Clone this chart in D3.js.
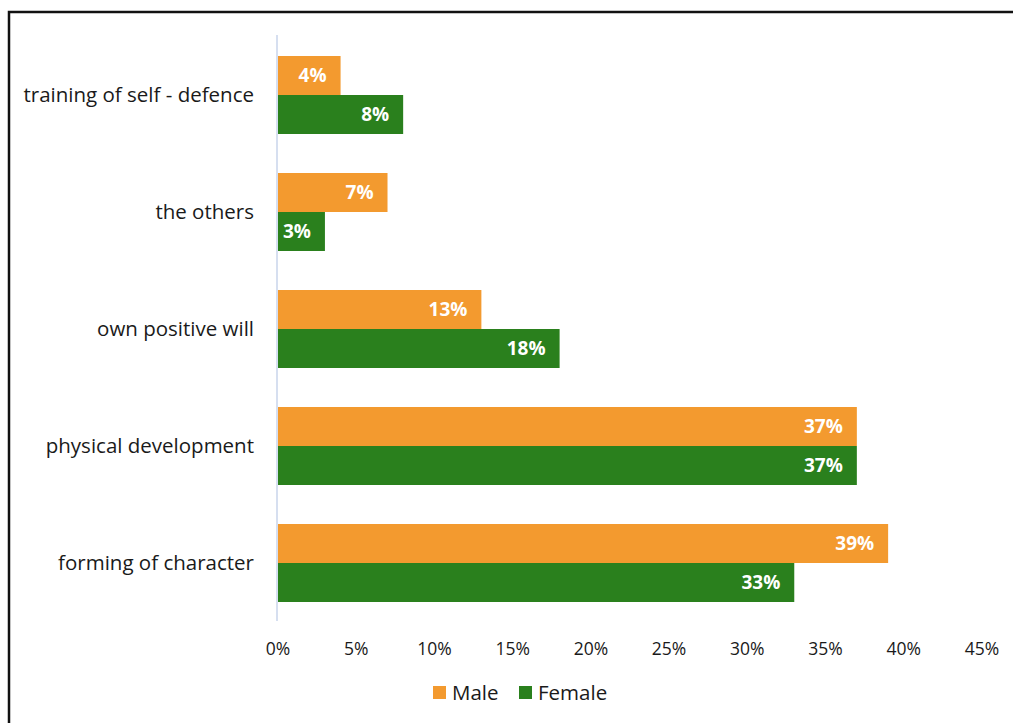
<!DOCTYPE html>
<meta charset="utf-8">
<script src="https://d3js.org/d3.v7.min.js"></script>
<style>
body { margin: 0; background: #fff; }
text { font-family: "Open Sans", sans-serif; fill: #1a1a1a; }
.value { fill: #fff; font-weight: bold; }
</style>
<body>
<script>

var categories = ["training of self - defence", "the others", "own positive will", "physical development", "forming of character"];
var male = [4, 7, 13, 37, 39];
var female = [8, 3, 18, 37, 33];
var series = ["Male", "Female"];
var colors = ["#f39a2f", "#2a801d"];
var ticks = [0, 5, 10, 15, 20, 25, 30, 35, 40, 45];

var width = 1013, height = 723;

var svg = d3.select("body").append("svg")
    .attr("width", width)
    .attr("height", height);

// frame around the chart
svg.append("path")
    .attr("d", "M9,723V12H1013")
    .attr("fill", "none")
    .attr("stroke", "#111")
    .attr("stroke-width", 2.5);

var x = d3.scaleLinear().domain([0, 45]).range([278, 982]);

var y = d3.scaleBand()
    .domain(categories)
    .range([36.5, 621.5])
    .paddingInner(1 / 3)
    .paddingOuter(1 / 6);

var sub = d3.scaleBand().domain(series).range([0, y.bandwidth()]);

// tick labels
svg.append("g")
    .selectAll("text")
    .data(ticks)
    .enter().append("text")
    .attr("x", d => x(d))
    .attr("y", 655)
    .attr("text-anchor", "middle")
    .style("font-size", "17.5px")
    .text(d => d + "%");

var rows = categories.map(function(c, i) {
  return [{cat: c, s: "Male", v: male[i], c: colors[0]},
          {cat: c, s: "Female", v: female[i], c: colors[1]}];
});
var flat = [].concat.apply([], rows);

svg.append("g")
    .selectAll("rect")
    .data(flat)
    .enter().append("rect")
    .attr("x", x(0))
    .attr("y", d => y(d.cat) + sub(d.s))
    .attr("width", d => x(d.v) - x(0))
    .attr("height", sub.bandwidth())
    .attr("fill", d => d.c);

svg.append("g")
    .selectAll("text")
    .data(flat)
    .enter().append("text")
    .attr("class", "value")
    .attr("x", d => x(d.v) - 14)
    .attr("y", d => y(d.cat) + sub(d.s) + sub.bandwidth() / 2)
    .attr("dy", "0.35em")
    .attr("text-anchor", "end")
    .style("font-size", "19px")
    .text(d => d.v + "%");

// vertical axis line
svg.append("line")
    .attr("x1", 277).attr("x2", 277)
    .attr("y1", 35).attr("y2", 621)
    .attr("stroke", "#d6dff0")
    .attr("stroke-width", 2);

// category labels
svg.append("g")
    .selectAll("text")
    .data(categories)
    .enter().append("text")
    .attr("x", 254)
    .attr("y", d => y(d) + y.bandwidth() / 2)
    .attr("dy", "0.35em")
    .attr("text-anchor", "end")
    .style("font-size", "20.5px")
    .text(d => d);

// legend
var legend = svg.append("g")
    .selectAll("g")
    .data(series)
    .enter().append("g")
    .attr("transform", (d, i) => "translate(" + (433 + i * 86) + ",686)");

legend.append("rect")
    .attr("width", 13).attr("height", 13)
    .attr("fill", (d, i) => colors[i]);

legend.append("text")
    .attr("x", 19)
    .attr("y", 7)
    .attr("dy", "0.35em")
    .style("font-size", "20.5px")
    .text(d => d);

</script>
</body>
